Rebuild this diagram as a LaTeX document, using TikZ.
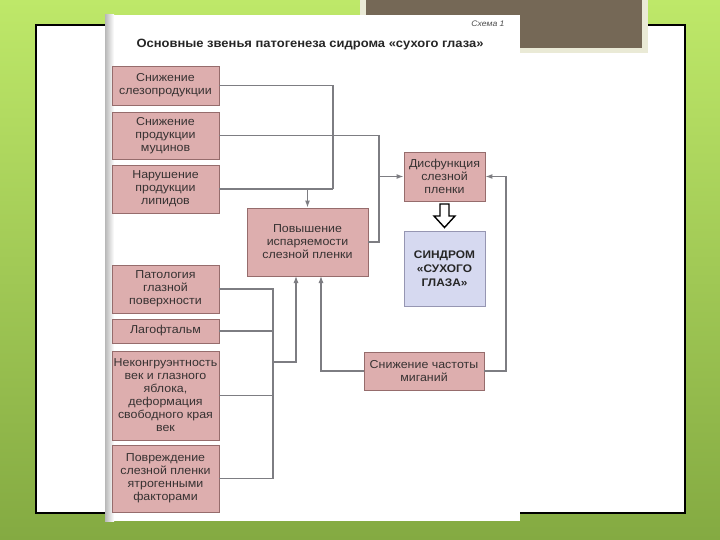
\documentclass[tikz,border=0pt]{standalone}
\usepackage{fontspec}
\setmainfont{Liberation Sans}[FakeStretch=1.08]
\usetikzlibrary{arrows.meta,calc}
\definecolor{pinkfill}{RGB}{221,174,174}
\definecolor{pinkdraw}{RGB}{150,108,108}
\definecolor{lavfill}{RGB}{214,217,240}
\definecolor{lavdraw}{RGB}{150,150,178}
\definecolor{linegray}{RGB}{125,125,130}
\definecolor{txt}{RGB}{55,50,50}
\definecolor{brownbox}{RGB}{117,104,86}
\definecolor{beige}{RGB}{234,234,214}
\definecolor{greentop}{RGB}{190,232,105}
\definecolor{greenbot}{RGB}{132,170,66}
\tikzset{
  pbox/.style={draw=pinkdraw, fill=pinkfill, line width=0.9pt, inner sep=1pt, align=center,
    text=txt, font=\fontsize{11.5}{13}\selectfont},
  lbox/.style={draw=lavdraw, fill=lavfill, line width=0.9pt, inner sep=1pt, align=center,
    text=black!85, font=\bfseries\fontsize{11}{14}\selectfont},
  conn/.style={draw=linegray, line width=1.1pt},
  arr/.style={conn, -{Latex[length=7pt,width=5pt]}}
}
\begin{document}
\begin{tikzpicture}[x=1pt,y=-1pt]
\useasboundingbox (0,0) rectangle (720,540);
% background
\shade[top color=greentop, bottom color=greenbot] (0,0) rectangle (720,540);
% slide frame
\draw[fill=white, line width=1.3pt] (36,25) rectangle (685,513);
% brown box
\fill[beige] (360,0) rectangle (648,53);
\fill[brownbox] (366,0) rectangle (642,48);
% scanned page
\fill[white] (105,15) rectangle (520,521);
\shade[left color=black!28, right color=white] (105,15) rectangle (114,521);
% headings
\node[font=\itshape\fontsize{8}{9}\selectfont, text=black!70] (schema) at (488,24) {Схема 1};
\node[font=\bfseries\fontsize{12}{14}\selectfont, text=black!85] (title) at (310,45)
  {Основные звенья патогенеза сидрома «сухого глаза»};
% boxes
\node[pbox, minimum width=107pt, minimum height=39pt] (b1) at (165.5,85.5) {Снижение\\слезопродукции};
\node[pbox, minimum width=107pt, minimum height=47pt] (b2) at (165.5,135.5) {Снижение\\продукции\\муцинов};
\node[pbox, minimum width=107pt, minimum height=48pt] (b3) at (165.5,189) {Нарушение\\продукции\\липидов};
\node[pbox, minimum width=121pt, minimum height=68pt] (evap) at (307.5,242) {Повышение\\испаряемости\\слезной пленки};
\node[pbox, minimum width=81pt, minimum height=49pt] (dys) at (444.5,176.5) {Дисфункция\\слезной\\пленки};
\node[lbox, minimum width=81pt, minimum height=75pt] (syn) at (444.5,268.5) {СИНДРОМ\\«СУХОГО\\ГЛАЗА»};
\node[pbox, minimum width=120pt, minimum height=38pt] (blink) at (424,371) {Снижение частоты\\миганий};
\node[pbox, minimum width=107pt, minimum height=48pt] (p1) at (165.5,289) {Патология\\глазной\\поверхности};
\node[pbox, minimum width=107pt, minimum height=24pt] (p2) at (165.5,331) {Лагофтальм};
\node[pbox, minimum width=107pt, minimum height=89pt] (p3) at (165.5,395.5) {Неконгруэнтность\\век и глазного\\яблока,\\деформация\\свободного края\\век};
\node[pbox, minimum width=107pt, minimum height=67pt] (p4) at (165.5,478.5) {Повреждение\\слезной пленки\\ятрогенными\\факторами};
% junction points
\coordinate (j1) at (333,189);
\coordinate (k2) at (379,242);
\coordinate (k3) at (506,176.5);
\coordinate (e1) at (296,276);
\coordinate (e2) at (321,276);
\coordinate (v) at (273,362);
% connectors upper group
\draw[conn] (b1.east) -| (j1);
\draw[conn] (b3.east) -- (j1);
\draw[arr] (evap.north |- j1) -- (evap.north);
\draw[conn] (b2.east) -| (k2) -- (evap.east);
\draw[arr] (k2 |- dys.west) -- (dys.west);
% blink
\draw[arr] (blink.east) -| (k3) -- (dys.east);
\draw[arr] (blink.west) -| (e2);
% lower group
\draw[conn] (p1.east) -| (v);
\draw[conn] (p4.east) -| (v);
\draw[conn] (p2.east) -- (p2.east -| v);
\draw[conn] (p3.east) -- (p3.east -| v);
\draw[arr] (v) -| (e1);
% hollow arrow
\draw[line width=1.4pt, fill=white, line join=miter]
  (440,204) -- (449,204) -- (449,216) -- (455,216) -- (444.5,227.5) -- (434,216) -- (440,216) -- cycle;
\end{tikzpicture}
\end{document}
